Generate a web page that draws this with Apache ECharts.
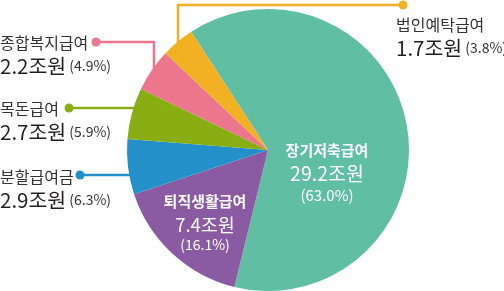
<!DOCTYPE html>
<html><head><meta charset="utf-8">
<script src="https://cdn.jsdelivr.net/npm/echarts@6/dist/echarts.min.js"></script>
<style>html,body{margin:0;padding:0;background:#fff}#c{width:504px;height:291px}</style>
</head><body><div id="c"></div>
<script>
const categories = ['장기저축급여','퇴직생활급여','분할급여금','목돈급여','종합복지급여','법인예탁급여'];
const amounts = ['29.2','7.4','2.9','2.7','2.2','1.7'];
const percents = [63.0, 16.1, 6.3, 5.9, 4.9, 3.8];
const colors = ['#60BEA3','#8A5BA3','#2390C9','#88AE14','#EC768C','#F2B023'];

// label layout (positions only)
const inside = [true, true, false, false, false, false];
const labelPos = [
  {x:327, y:172},
  {x:205, y:222},
  {x:0, y:165},
  {x:0, y:97},
  {x:0, y:31},
  {x:396, y:13}
];
const linePts = [
  null, null,
  [[130,175],[130,175],[80,175]],
  [[137,108],[137,108],[69,108]],
  [[154,72],[154,42],[96,42]],
  [[178,45],[178,5],[403,5]]
];
const dots = [null, null, [80,175], [69,108], [96,42], [403,5]];

const FONT = '"Noto Sans CJK KR", "Noto Sans", sans-serif';
const chart = echarts.init(document.getElementById('c'));
const data = categories.map((c,i)=>({
  name:c, value:percents[i],
  itemStyle:{color:colors[i]},
  label: inside[i] ? {
    overflow:'none',
    formatter: '{t|'+c+'}\n{v|'+amounts[i]+'조원}\n{p|('+percents[i].toFixed(1)+'%)}',
    rich: i===0 ? {
      t:{fontFamily:FONT,fontSize:15,fontWeight:'bold',color:'#fff',lineHeight:23,align:'center'},
      v:{fontFamily:FONT,fontSize:19.5,color:'#fff',lineHeight:23,align:'center'},
      p:{fontFamily:FONT,fontSize:15,color:'#fff',lineHeight:20,align:'center'}
    } : {
      t:{fontFamily:FONT,fontSize:15,fontWeight:'bold',color:'#fff',lineHeight:24,align:'center'},
      v:{fontFamily:FONT,fontSize:18.5,color:'#fff',lineHeight:22,align:'center'},
      p:{fontFamily:FONT,fontSize:14,color:'#fff',lineHeight:19,align:'center'}
    }
  } : {
    overflow:'none',
    formatter: '{t|'+c+'}\n{v|'+amounts[i]+'조원}{p| ('+percents[i].toFixed(1)+'%)}',
    rich:{
      t:{fontFamily:FONT,fontSize:16,color:'#333',lineHeight:23},
      v:{fontFamily:FONT,fontSize:20.5,color:'#231f20',lineHeight:24},
      p:{fontFamily:FONT,fontSize:14,color:'#333',lineHeight:24}
    }
  },
  labelLine: inside[i] ? {show:false} : {show:true, lineStyle:{color:colors[i], width:2.5}}
}));

chart.setOption({
  animation:false,
  series:[{
    type:'pie',
    center:[268,150],
    radius:141,
    startAngle:123,
    clockwise:true,
    data:data,
    label:{show:true, position:'outside', overflow:'none'},
    labelLine:{show:true, smooth:false},
    labelLayout:function(p){
      const i = p.dataIndex;
      const o = {x:labelPos[i].x, y:labelPos[i].y};
      if(inside[i]){ o.align='center'; o.verticalAlign='middle'; }
      else { o.align='left'; o.verticalAlign='top'; o.labelLinePoints = linePts[i]; }
      return o;
    }
  }],
  graphic: dots.map((d,i)=> d ? {type:'circle', shape:{cx:d[0], cy:d[1], r:4.5}, style:{fill:colors[i]}, z:100} : null).filter(Boolean)
});
</script></body></html>
